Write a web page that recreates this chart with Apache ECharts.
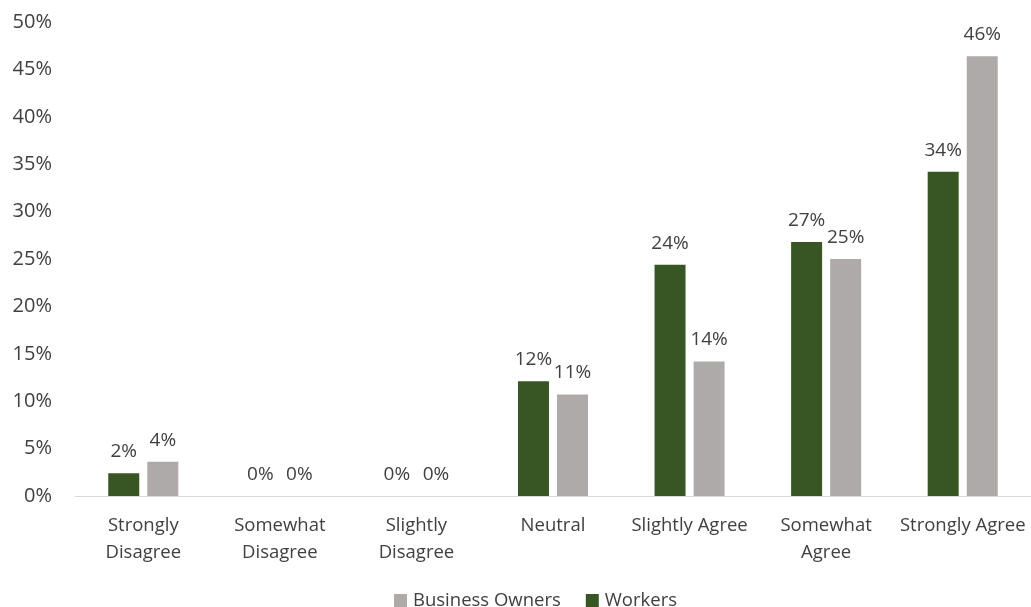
<!DOCTYPE html>
<html><head><meta charset="utf-8">
<script src="https://cdn.jsdelivr.net/npm/echarts@6/dist/echarts.min.js"></script>
<style>html,body{margin:0;padding:0;background:#fff}#c{width:1031px;height:607px}</style>
</head><body><div id="c"></div>
<script>
const categories = ['Strongly\nDisagree','Somewhat\nDisagree','Slightly\nDisagree','Neutral','Slightly Agree','Somewhat\nAgree','Strongly Agree'];
const workers = [2.4, 0, 0, 12.1, 24.4, 26.8, 34.2];
const owners = [3.6, 0, 0, 10.7, 14.2, 25.0, 46.4];
const chart = echarts.init(document.getElementById('c'));
const font = "'Open Sans', sans-serif";
const lbl = {show:true, position:'top', distance:12, color:'#404040', fontSize:19, fontFamily:font,
  formatter: p => Math.round(p.value) + '%'};
chart.setOption({
  animation:false,
  textStyle:{fontFamily:font},
  grid:{left:75, top:22, width:962, height:474, containLabel:false},
  legend:{bottom:-8, left:389, data:['Business Owners','Workers'], itemWidth:13, itemHeight:13, itemGap:25,
    textStyle:{color:'#404040', fontSize:18.5, fontFamily:font, padding:[0,0,0,1]}, icon:'rect'},
  xAxis:{type:'category', data:categories,
    axisLine:{lineStyle:{color:'#d9d9d9'}}, axisTick:{show:false},
    axisLabel:{color:'#404040', fontSize:18.5, fontFamily:font, lineHeight:27, margin:16, interval:0}},
  yAxis:{type:'value', min:0, max:50, interval:5, splitLine:{show:false},
    axisLabel:{formatter:'{value}%', color:'#404040', fontSize:20, fontFamily:font, margin:23}},
  series:[
    {name:'Workers', type:'bar', data:workers, barWidth:31, barGap:'26%', itemStyle:{color:'#375623'}, label:lbl},
    {name:'Business Owners', type:'bar', data:owners, barWidth:31, barGap:'26%', itemStyle:{color:'#AEAAAA'}, label:lbl}
  ]
});
</script></body></html>
